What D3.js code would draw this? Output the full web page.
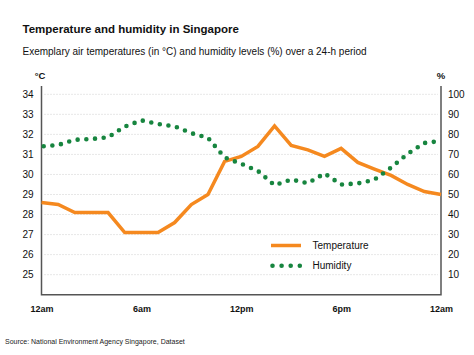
<!DOCTYPE html>
<html><head><meta charset="utf-8">
<script src="https://cdn.jsdelivr.net/npm/d3@7"></script>
<style>
body{margin:0;background:#fff;}
svg{display:block;font-family:"Liberation Sans",Arial,sans-serif;}
</style></head>
<body>
<svg id="c" width="474" height="355"></svg>
<script>
const hours = d3.range(0, 25);
const temperature = [28.6,28.5,28.1,28.1,28.1,27.1,27.1,27.1,27.6,28.5,29.0,30.65,30.9,31.4,32.42,31.45,31.23,30.9,31.3,30.6,30.27,29.95,29.5,29.15,29.0];
const humidity = [74,74.7,77.3,77.7,78.5,83.9,87,85.2,84,80.6,78.3,68.5,65.3,61.8,54.6,57.5,55.6,60.5,55,55.5,57.4,63.4,70.3,75.7,76.7];
const tempTicks = [25,26,27,28,29,30,31,32,33,34];
const humTicks = [10,20,30,40,50,60,70,80,90,100];
const xTickHours = [0,6,12,18,24];
const xTickLabels = ["12am","6am","12pm","6pm","12am"];

const svg = d3.select("#c");
const L = 41.5, R = 441, T = 94.3, B = 294.7;
const x = d3.scaleLinear().domain([0,24]).range([L,R]);
const yT = d3.scaleLinear().domain([24,34]).range([B,T]);
const yH = d3.scaleLinear().domain([0,100]).range([B,T]);

// titles
svg.append("text").attr("x",22.5).attr("y",32.5).attr("font-size",11.5).attr("font-weight","bold").attr("fill","#111")
  .text("Temperature and humidity in Singapore");
svg.append("text").attr("x",22.5).attr("y",55).attr("font-size",10).attr("fill","#111")
  .text("Exemplary air temperatures (in °C) and humidity levels (%) over a 24-h period");
svg.append("text").attr("x",40).attr("y",78.5).attr("text-anchor","middle").attr("font-size",9.5).attr("font-weight","bold").attr("fill","#111").text("°C");
svg.append("text").attr("x",441).attr("y",78.5).attr("text-anchor","middle").attr("font-size",9.5).attr("font-weight","bold").attr("fill","#111").text("%");

// gridlines
svg.append("g").selectAll("line").data(tempTicks).join("line")
  .attr("x1",L+3).attr("x2",R-3).attr("y1",d=>yT(d)).attr("y2",d=>yT(d))
  .attr("stroke","#cfcfcf").attr("stroke-width",1).attr("stroke-dasharray","1,2");

// axes
const gl = svg.append("g").attr("transform",`translate(${L},0)`)
  .call(d3.axisLeft(yT).tickValues(tempTicks).tickSize(0).tickPadding(8));
const gr = svg.append("g").attr("transform",`translate(${R},0)`)
  .call(d3.axisRight(yH).tickValues(humTicks).tickSize(0).tickPadding(7));
const gb = svg.append("g").attr("transform",`translate(0,${B})`)
  .call(d3.axisBottom(x).tickValues(xTickHours).tickFormat((d,i)=>xTickLabels[i]).tickSize(0).tickPadding(11));
[gl,gr,gb].forEach(g=>{
  g.select(".domain").remove();
  g.selectAll("text").attr("font-family","Liberation Sans, Arial, sans-serif").attr("fill","#111");
});
gl.selectAll("text").attr("font-size",10);
gr.selectAll("text").attr("font-size",10).attr("text-anchor","start");
gb.selectAll("text").attr("font-size",9).attr("font-weight","bold");

const axisCol = "#555";
svg.append("path").attr("d",`M${L},86V${B}H${R}V86`).attr("fill","none").attr("stroke",axisCol).attr("stroke-width",1.5);

// lines
const lineT = d3.line().x((d,i)=>x(hours[i])).y(d=>yT(d));
const lineH = d3.line().x((d,i)=>x(hours[i])).y(d=>yH(d));
svg.append("path").datum(temperature).attr("d",lineT).attr("fill","none")
  .attr("stroke","#f5891f").attr("stroke-width",3.5).attr("stroke-linejoin","miter");
svg.append("path").datum(humidity).attr("d",lineH).attr("fill","none")
  .attr("stroke","#17853f").attr("stroke-width",4.6).attr("stroke-linecap","round")
  .attr("stroke-dasharray","0,8.7").attr("stroke-dashoffset",6.5);

// legend
svg.append("line").attr("x1",271).attr("x2",301).attr("y1",245.5).attr("y2",245.5).attr("stroke","#f5891f").attr("stroke-width",3.5);
svg.append("line").attr("x1",272.5).attr("x2",300).attr("y1",265.7).attr("y2",265.7).attr("stroke","#17853f").attr("stroke-width",4.6)
  .attr("stroke-linecap","round").attr("stroke-dasharray","0,9.1");
svg.append("text").attr("x",312.5).attr("y",249).attr("font-size",10).attr("fill","#111").text("Temperature");
svg.append("text").attr("x",312.5).attr("y",269.3).attr("font-size",10).attr("fill","#111").text("Humidity");

// source
svg.append("text").attr("x",5).attr("y",343.5).attr("font-size",7).attr("fill","#222")
  .text("Source:  National Environment Agency Singapore, Dataset");
</script>
</body></html>
